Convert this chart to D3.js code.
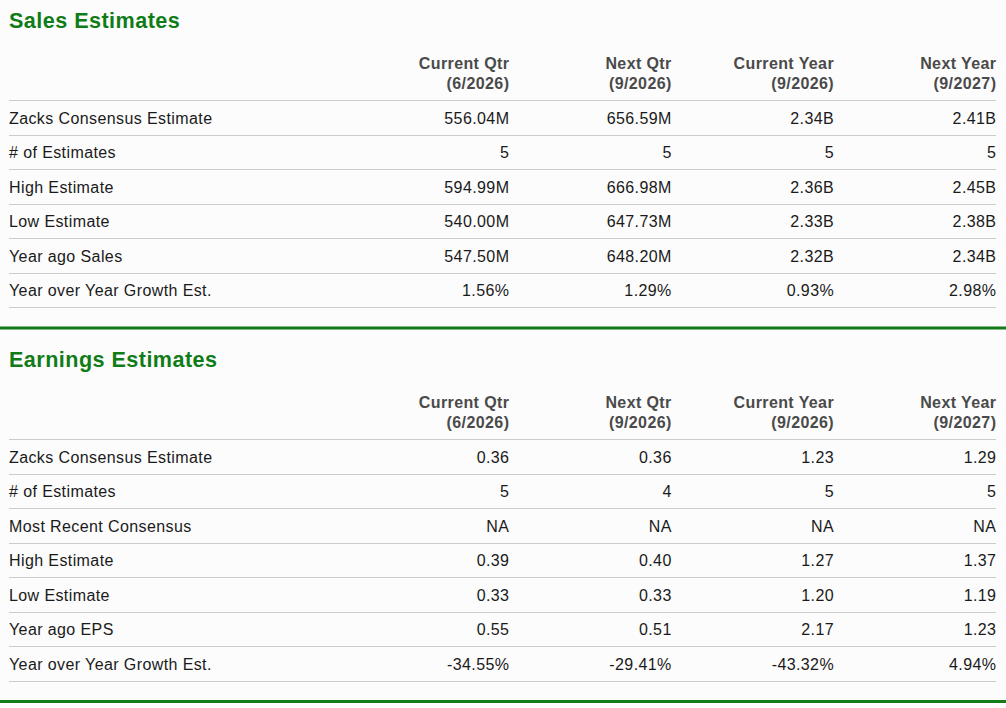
<!DOCTYPE html>
<html>
<head>
<meta charset="utf-8">
<script src="https://cdn.jsdelivr.net/npm/d3@7"></script>
<style>
  body { margin: 0; background: #fcfcfc; }
  svg { display: block; font-family: "Liberation Sans", Arial, sans-serif; }
</style>
</head>
<body>
<div id="chart"></div>
<script>
// column headers (two lines each)
var colTop = ['Current Qtr', 'Next Qtr', 'Current Year', 'Next Year'];
var colBottom = ['(6/2026)', '(9/2026)', '(9/2026)', '(9/2027)'];

// sales table
var salesRows = ['Zacks Consensus Estimate', '# of Estimates', 'High Estimate',
  'Low Estimate', 'Year ago Sales', 'Year over Year Growth Est.'];
var salesValues = [
  ['556.04M', '656.59M', '2.34B', '2.41B'],
  ['5', '5', '5', '5'],
  ['594.99M', '666.98M', '2.36B', '2.45B'],
  ['540.00M', '647.73M', '2.33B', '2.38B'],
  ['547.50M', '648.20M', '2.32B', '2.34B'],
  ['1.56%', '1.29%', '0.93%', '2.98%']
];

// earnings table
var epsRows = ['Zacks Consensus Estimate', '# of Estimates', 'Most Recent Consensus',
  'High Estimate', 'Low Estimate', 'Year ago EPS', 'Year over Year Growth Est.'];
var epsValues = [
  ['0.36', '0.36', '1.23', '1.29'],
  ['5', '4', '5', '5'],
  ['NA', 'NA', 'NA', 'NA'],
  ['0.39', '0.40', '1.27', '1.37'],
  ['0.33', '0.33', '1.20', '1.19'],
  ['0.55', '0.51', '2.17', '1.23'],
  ['-34.55%', '-29.41%', '-43.32%', '4.94%']
];

var sections = [
  {title: 'Sales Estimates', rows: salesRows, values: salesValues, top: 0},
  {title: 'Earnings Estimates', rows: epsRows, values: epsValues, top: 339}
];

var svgWidth = 1006, svgHeight = 708;
var green = '#107c18';

var svg = d3.select('#chart').append('svg')
  .attr('width', svgWidth)
  .attr('height', svgHeight);

// right edge of each value column
var x = d3.scaleLinear().domain([0, 3]).range([509, 996]);
var left = 9, right = 996, rowH = 34.5, headLine = 100;

// text-anchor end + letter-spacing leaves a trailing gap, shift by it
var ls = 0.4;

sections.forEach(function(s) {
  var g = svg.append('g').attr('transform', `translate(0, ${s.top})`);
  // row rule positions
  var y = d3.scaleLinear().domain([0, 1]).range([headLine, headLine + rowH]);

  g.append('text')
    .attr('x', left)
    .attr('y', 27.5)
    .attr('fill', green)
    .attr('font-weight', 'bold')
    .attr('font-size', '21.6px')
    .attr('letter-spacing', 0.45)
    .text(s.title);

  // column headers
  g.selectAll('.colTop')
    .data(colTop)
    .enter()
    .append('text')
    .attr('x', (d, i) => x(i) + ls)
    .attr('y', 68.5)
    .attr('text-anchor', 'end')
    .attr('fill', '#4a4a4a')
    .attr('font-weight', 'bold')
    .attr('font-size', '16px')
    .attr('letter-spacing', ls)
    .text(d => d);

  g.selectAll('.colBottom')
    .data(colBottom)
    .enter()
    .append('text')
    .attr('x', (d, i) => x(i) + ls)
    .attr('y', 88.5)
    .attr('text-anchor', 'end')
    .attr('fill', '#4a4a4a')
    .attr('font-weight', 'bold')
    .attr('font-size', '16px')
    .attr('letter-spacing', ls)
    .text(d => d);

  // thin rules
  g.selectAll('.rule')
    .data(d3.range(s.rows.length + 1))
    .enter()
    .append('line')
    .attr('x1', left)
    .attr('x2', right)
    .attr('y1', d => Math.round(y(d)) + 0.5)
    .attr('y2', d => Math.round(y(d)) + 0.5)
    .attr('stroke', '#cccccc')
    .attr('stroke-width', 1);

  // row labels
  g.selectAll('.rowLabel')
    .data(s.rows)
    .enter()
    .append('text')
    .attr('x', left)
    .attr('y', (d, i) => y(i) + 23.5)
    .attr('fill', '#1a1a1a')
    .attr('font-size', '16px')
    .attr('letter-spacing', ls)
    .text(d => d);

  // values
  s.values.forEach(function(row, r) {
    g.selectAll('.v' + r)
      .data(row)
      .enter()
      .append('text')
      .attr('x', (d, i) => x(i) + ls)
      .attr('y', y(r) + 23.5)
      .attr('text-anchor', 'end')
      .attr('fill', '#1a1a1a')
      .attr('font-size', '16px')
      .attr('letter-spacing', ls)
      .text(d => d);
  });

  // green section rule
  g.append('rect')
    .attr('x', 0)
    .attr('y', y(s.rows.length) + 19.5)
    .attr('width', svgWidth)
    .attr('height', 3)
    .attr('fill', green);
});
</script>
</body>
</html>
